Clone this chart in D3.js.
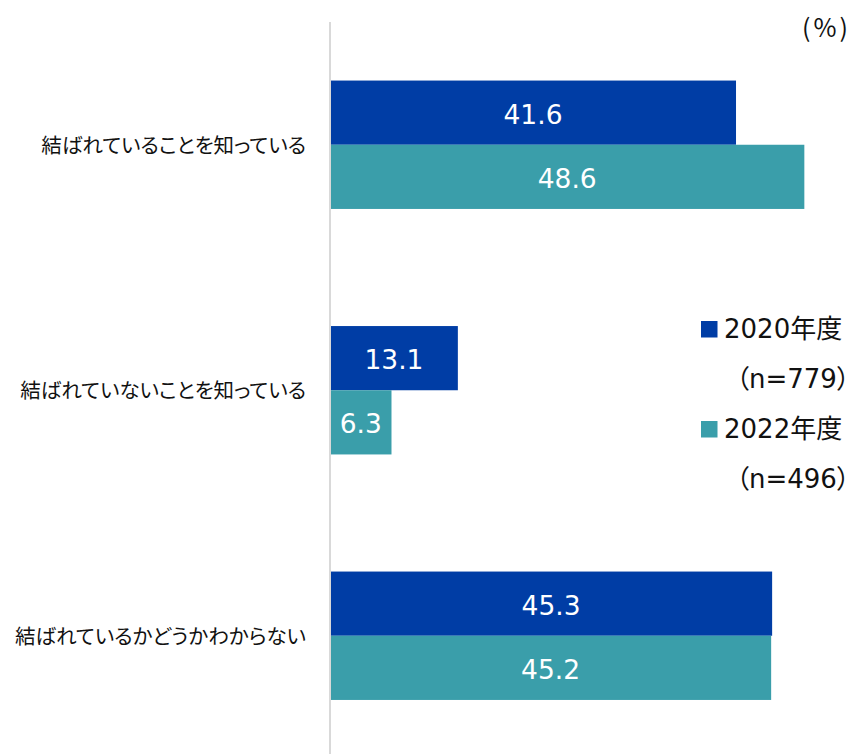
<!DOCTYPE html>
<html lang="ja">
<head>
<meta charset="utf-8">
<script src="https://cdn.jsdelivr.net/npm/d3@7/dist/d3.min.js"></script>
<style>
  html, body { margin: 0; padding: 0; background: #fff; }
  svg { display: block; }
</style>
</head>
<body>
<svg id="chart" width="856" height="754"></svg>
<script>
// Survey answers (percent) for two survey years
const categories = [
  "結ばれていることを知っている",
  "結ばれていないことを知っている",
  "結ばれているかどうかわからない"
];
const seriesNames = ["2020年度", "2022年度"];
const sampleSizes = ["（n=779）", "（n=496）"];
const values2020 = [41.6, 13.1, 45.3];
const values2022 = [48.6, 6.3, 45.2];
const colors = ["#003DA5", "#3A9EAA"];
const unitLabel = "(%)";

const seriesValues = [values2020, values2022];
const rows = categories.map((c, i) => ({
  category: c,
  values: seriesNames.map((s, k) => ({ series: s, value: seriesValues[k][i], k }))
}));

const svg = d3.select("#chart");
const jpFont = "'Noto Sans CJK JP', 'Noto Sans', sans-serif";
const numFont = "'DejaVu Sans', 'Noto Sans CJK JP', sans-serif";

const x = d3.scaleLinear().domain([0, 50]).range([330, 818]);
const y0 = d3.scaleBand().domain(categories).range([22, 758.5]).paddingInner(0).paddingOuter(0);
const y1 = d3.scaleBand().domain(seriesNames).range([0, y0.bandwidth()]).paddingInner(0).paddingOuter(0.912);

// Category groups
const groups = svg.append("g").selectAll("g")
  .data(rows)
  .join("g")
  .attr("transform", d => `translate(0,${y0(d.category)})`);

groups.selectAll("rect")
  .data(d => d.values)
  .join("rect")
  .attr("x", x(0))
  .attr("y", d => y1(d.series))
  .attr("width", d => x(d.value) - x(0))
  .attr("height", y1.bandwidth())
  .attr("fill", d => colors[d.k]);

groups.selectAll("text.value")
  .data(d => d.values)
  .join("text")
  .attr("class", "value")
  .attr("x", d => (x(0) + x(d.value)) / 2)
  .attr("y", d => y1(d.series) + y1.bandwidth() / 2 + 11)
  .attr("text-anchor", "middle")
  .attr("font-family", numFont)
  .attr("font-size", 26.5)
  .attr("fill", "#fff")
  .text(d => d.value.toFixed(1));

// Category labels
svg.append("g").selectAll("text")
  .data(categories)
  .join("text")
  .attr("x", 306)
  .attr("y", d => y0(d) + y0.bandwidth() / 2 + 8)
  .attr("text-anchor", "end")
  .attr("font-family", jpFont)
  .attr("font-size", 20.5)
  .style("font-feature-settings", "'palt'")
  .attr("fill", "#111")
  .text(d => d);

// Vertical axis line
svg.append("line")
  .attr("x1", x(0)).attr("x2", x(0))
  .attr("y1", 22).attr("y2", 754)
  .attr("stroke", "#d9d9d9")
  .attr("stroke-width", 2);

// Unit label
svg.append("text")
  .attr("x", 851)
  .attr("y", 37)
  .attr("text-anchor", "end")
  .attr("font-family", jpFont)
  .attr("font-size", 25)
  .attr("letter-spacing", 3)
  .attr("fill", "#111")
  .text(unitLabel);

// Legend
const legend = svg.append("g").selectAll("g")
  .data(seriesNames)
  .join("g")
  .attr("transform", (d, i) => `translate(701,${321 + i * 100})`);

legend.append("rect")
  .attr("width", 16.5).attr("height", 16.5)
  .attr("fill", (d, i) => colors[i]);

legend.append("text")
  .attr("x", 23).attr("y", 17.3)
  .attr("font-family", numFont)
  .attr("font-size", 26)
  .attr("fill", "#111")
  .text(d => d);

legend.append("text")
  .attr("x", 35).attr("y", 67)
  .attr("font-family", numFont)
  .attr("font-size", 26)
  .style("font-feature-settings", "'palt'")
  .attr("fill", "#111")
  .text((d, i) => sampleSizes[i]);
</script>
</body>
</html>
